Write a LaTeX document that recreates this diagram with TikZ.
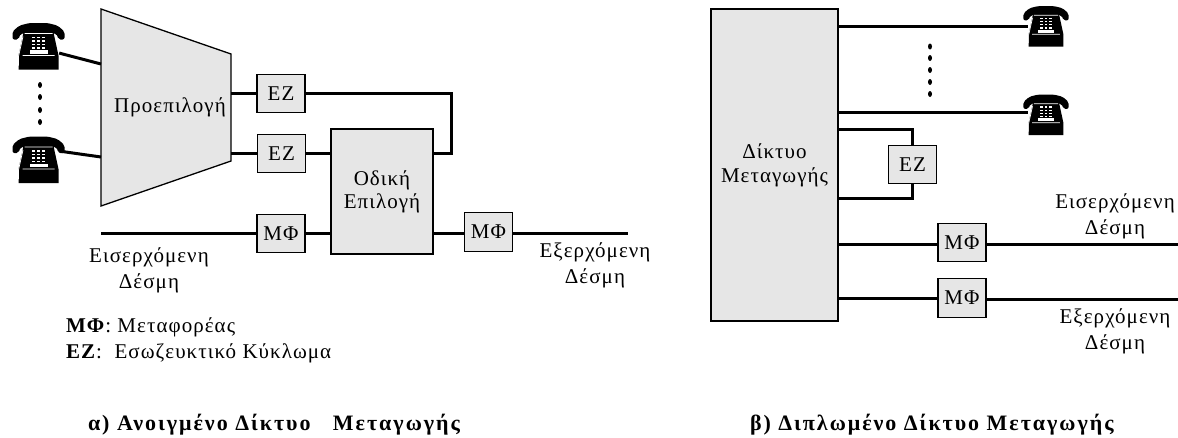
\documentclass[tikz,border=0pt]{standalone}
\usepackage{fontspec}
\setmainfont[LetterSpace=5]{Liberation Serif}
\newfontfamily\titlefont[LetterSpace=9]{Liberation Serif}
\usepackage{tikz}
\usetikzlibrary{positioning}
\definecolor{boxgray}{HTML}{E6E6E6}
\tikzset{
  boxshape/.style={draw=black, line width=1.3pt, fill=boxgray},
  unitbox/.style={boxshape, inner sep=0pt, outer sep=0pt, align=center},
  smallbox/.style={unitbox, minimum width=48pt, minimum height=38.5pt},
  wire/.style={line width=3pt, black},
  label/.style={align=center, inner sep=0pt, outer sep=0pt},
  phone/.style={inner sep=0pt, outer sep=0pt, minimum width=#1*53pt, minimum height=#1*47pt,
    path picture={
      \begin{scope}[shift={(path picture bounding box.center)}, x=#1pt, y=-#1pt]
        \fill[black, rounded corners=2pt] (-26,-7) -- (-26,-15) -- (-19,-21) -- (-9,-23.5) -- (9,-23.5) -- (19,-21) -- (26,-15) -- (26,-7) -- (20,-7) -- (18,-13) -- (-18,-13) -- (-20,-7) -- cycle;
        \fill[black] (-15,-14) -- (15,-14) -- (20,9) -- (20,23) -- (-20,23) -- (-20,9) -- cycle;
        \draw[white, line width=0.7pt] (-14,-13) -- (14,-13) (-15.5,-10) -- (-20,10) -- (-20,19) (-16,9) -- (16,9);
        \foreach \r in {-9,-5.5,-2,1.5}{\foreach \c in {-5,0,5}{\fill[white] (\c-1.4,\r-0.8) rectangle (\c+1.4,\r+0.8);}}
        \fill[white] (-9,3.5) rectangle (9,7);
      \end{scope}}}
}
\begin{document}
\begin{tikzpicture}[x=1pt, y=-1pt, every node/.style={font=\fontsize{21}{26}\selectfont}]
  \useasboundingbox (0,0) rectangle (1178,437);
  % open network
  \draw[boxshape] (101,9) -- (231,54) -- (231,161) -- (101,206) -- cycle;
  \node[label, minimum width=130pt] (presel) at (166,107.5) {\hspace*{8pt}Προεπιλογή};
  \node[phone=1] (telA) at (38.5,46.5) {};
  \node[phone=1] (telB) at (38.5,160) {};
  \node[smallbox] (ezA) at (281,93.5) {ΕΖ};
  \node[smallbox] (ezB) at (281.5,153.5) {ΕΖ};
  \node[unitbox, minimum width=102pt, minimum height=125pt] (route) at (382,191.5) {Οδική\\[-3pt]Επιλογή};
  \node[smallbox] (mfA) at (281,233.5) {ΜΦ};
  \node[smallbox] (mfB) at (488.5,232) {ΜΦ};
  \coordinate (inA) at (101,233);
  \coordinate (outA) at (628,233);
  \coordinate (bend) at (451,93.5);
  \draw[wire, shorten <=-6pt] (telA.-17) -- (presel.west |- 0,64);
  \draw[wire, shorten <=-6pt] (telB.17) -- (presel.west |- 0,157);
  \foreach \x in {85,97,110,122}{\fill (40,\x) ellipse (2pt and 3pt);}
  \draw[wire] (presel.east |- ezA) -- (ezA);
  \draw[wire] (presel.east |- ezB) -- (ezB);
  \draw[wire] (ezB) -- (route.west |- ezB);
  \draw[wire] (ezA.east) -- (bend) -- (bend |- ezB) -- (route.east |- ezB);
  \draw[wire] (inA) -- (mfA.west |- inA);
  \draw[wire] (mfA.east |- inA) -- (route.west |- inA);
  \draw[wire] (route.east |- inA) -- (mfB.west |- inA);
  \draw[wire] (mfB.east |- inA) -- (outA);
  \node[label] (inlabelA) at (149,270) {Εισερχόμενη\\Δέσμη};
  \node[label] (outlabelA) at (595,265) {Εξερχόμενη\\Δέσμη};
  \node[label, anchor=west] (legendA) at (66,327) {\textbf{ΜΦ}: Μεταφορέας};
  \node[label, anchor=west] (legendB) at (66,353) {\textbf{ΕΖ}:\ \ Εσωζευκτικό Κύκλωμα};
  \node[label, anchor=west, font=\fontsize{22}{26}\selectfont] (titleA) at (88,425) {\titlefont\bfseries α) Ανοιγμένο Δίκτυο\ \ \ Μεταγωγής};
  % folded network
  \node[unitbox, minimum width=127pt, minimum height=312pt] (net) at (774.5,165) {Δίκτυο\\[-2pt]Μεταγωγής};
  \node[phone=0.87] (telC) at (1046,26.5) {};
  \node[phone=0.87] (telD) at (1046,115) {};
  \node[smallbox] (ezC) at (912.5,164.5) {ΕΖ};
  \node[smallbox] (mfC) at (962,242.5) {ΜΦ};
  \node[smallbox] (mfD) at (962,298) {ΜΦ};
  \coordinate (inB) at (1178,244);
  \coordinate (outB) at (1178,299);
  \draw[wire, shorten >=-5pt] (net.east |- telC.west) -- (telC.west);
  \draw[wire, shorten >=-5pt] (net.east |- telD.173) -- (telD.173);
  \draw[wire] (net.east |- 0,129) -| (ezC.north);
  \draw[wire] (net.east |- 0,198) -| (ezC.south);
  \draw[wire] (net.east |- inB) -- (mfC.west |- inB);
  \draw[wire] (mfC.east |- inB) -- (inB);
  \draw[wire] (net.east |- mfD) -- (mfD);
  \draw[wire] (mfD.east |- outB) -- (outB);
  \foreach \x in {46.5,58,70,82,94}{\fill (930,\x) ellipse (2pt and 3pt);}
  \node[label] (inlabelB) at (1115,216.5) {Εισερχόμενη\\Δέσμη};
  \node[label] (outlabelB) at (1115,331.5) {Εξερχόμενη\\Δέσμη};
  \node[label, anchor=west, font=\fontsize{22}{26}\selectfont] (titleB) at (750,425) {\titlefont\bfseries β) Διπλωμένο Δίκτυο Μεταγωγής};
\end{tikzpicture}
\end{document}
